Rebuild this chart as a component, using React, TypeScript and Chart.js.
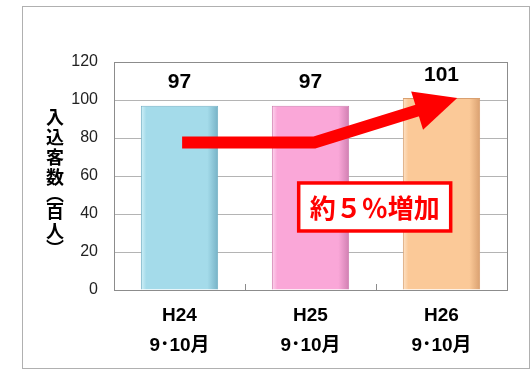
import React, { useEffect, useRef } from "react";
import { Chart, registerables } from "chart.js";

Chart.register(...registerables);

const categories: string[][] = [["H24", "9･10月"], ["H25", "9･10月"], ["H26", "9･10月"]];
const values: number[] = [97, 97, 101];
const yTicks: number[] = [0, 20, 40, 60, 80, 100, 120];
const yTitleChars: string[] = ["入", "込", "客", "数", "︵", "百", "人", "︶"];
const calloutText = "約５％増加";
// arrow path in data units: [category index, value]
const arrowPath: number[][] = [[0.02, 77.6], [1.03, 77.6], [2.12, 101]];
const calloutAnchor: number[] = [1.49, 43.7];

const mainColors = ["#A4DBEA", "#FAA7D8", "#FBC998"];
const lightColors = ["#D2F1F8", "#FDD6EE", "#FDE4CA"];
const darkColors = ["#76B2C6", "#D07FB1", "#D9A070"];

const FONT = "'Liberation Sans', Arial, 'Noto Sans CJK JP', sans-serif";
const CJK = "'Noto Sans CJK JP', 'Liberation Sans', sans-serif";
const BAR_PCT = 0.59;

const decorPlugin = {
  id: "decor",
  beforeDraw(chart: any) {
    const ctx = chart.ctx;
    ctx.save();
    ctx.fillStyle = "#ffffff";
    ctx.fillRect(0, 0, chart.width, chart.height);
    ctx.strokeStyle = "#B0B0B0";
    ctx.lineWidth = 1;
    ctx.strokeRect(22.5, 6.5, 507, 362);
    ctx.restore();
  },
  afterDraw(chart: any) {
    const ctx = chart.ctx;
    const xs = chart.scales.x;
    const ys = chart.scales.y;
    const area = chart.chartArea;
    ctx.save();
    ctx.strokeStyle = "#8C8C8C";
    ctx.lineWidth = 1;
    ctx.strokeRect(Math.round(area.left) + 0.5, Math.round(area.top) + 0.5, Math.round(area.right - area.left), Math.round(area.bottom - area.top));
    for (let i = 0; i < values.length - 1; i++) {
      const px = Math.round(xs.getPixelForValue(i + 0.5)) + 0.5;
      ctx.beginPath();
      ctx.moveTo(px, area.bottom);
      ctx.lineTo(px, area.bottom - 6);
      ctx.stroke();
    }
    ctx.fillStyle = "#000";
    ctx.font = "bold 18px " + CJK;
    ctx.textAlign = "center";
    ctx.textBaseline = "middle";
    let y = 117;
    yTitleChars.forEach((c, i) => {
      const isParen = c === "︵" || c === "︶";
      if (i > 0) {
        const prevParen = yTitleChars[i - 1] === "︵" || yTitleChars[i - 1] === "︶";
        y += (prevParen ? 7 : 10) + (isParen ? 7 : 10);
      }
      ctx.fillText(c, 55, y);
    });
    ctx.font = "bold 21px " + FONT;
    ctx.fillStyle = "#000";
    values.forEach((v, i) => {
      ctx.fillText(String(v), xs.getPixelForValue(i), ys.getPixelForValue(v) - 23);
    });
    const pts = arrowPath.map((p) => [xs.getPixelForValue(p[0]), ys.getPixelForValue(p[1])]);
    const tip = pts[pts.length - 1];
    const prev = pts[pts.length - 2];
    const ang = Math.atan2(tip[1] - prev[1], tip[0] - prev[0]);
    const headLen = 42;
    const headHalf = 20;
    const base = [tip[0] - headLen * Math.cos(ang), tip[1] - headLen * Math.sin(ang)];
    ctx.strokeStyle = "#FF0000";
    ctx.fillStyle = "#FF0000";
    ctx.lineWidth = 12;
    ctx.lineJoin = "miter";
    ctx.beginPath();
    ctx.moveTo(pts[0][0], pts[0][1]);
    for (let i = 1; i < pts.length - 1; i++) ctx.lineTo(pts[i][0], pts[i][1]);
    ctx.lineTo(base[0] + 2 * Math.cos(ang), base[1] + 2 * Math.sin(ang));
    ctx.stroke();
    ctx.beginPath();
    ctx.moveTo(tip[0], tip[1]);
    ctx.lineTo(base[0] + headHalf * Math.sin(ang), base[1] - headHalf * Math.cos(ang));
    ctx.lineTo(base[0] - headHalf * Math.sin(ang), base[1] + headHalf * Math.cos(ang));
    ctx.closePath();
    ctx.fill();
    const cx = xs.getPixelForValue(calloutAnchor[0]);
    const cy = ys.getPixelForValue(calloutAnchor[1]);
    const bw = 152, bh = 48;
    ctx.fillStyle = "#fff";
    ctx.fillRect(cx - bw / 2, cy - bh / 2, bw, bh);
    ctx.lineWidth = 3.5;
    ctx.strokeStyle = "#FF0000";
    ctx.strokeRect(cx - bw / 2, cy - bh / 2, bw, bh);
    ctx.fillStyle = "#FF0000";
    ctx.font = "bold 26px " + CJK;
    ctx.fillText(calloutText, cx, cy + 1);
    ctx.restore();
  },
};

export default function App() {
  const ref = useRef<HTMLCanvasElement>(null);
  useEffect(() => {
    document.body.style.margin = "0";
    const canvas = ref.current!;
    const chart = new Chart(canvas, {
      type: "bar",
      data: {
        labels: categories,
        datasets: [
          {
            data: values,
            backgroundColor: (c: any) => {
              const i = c.dataIndex;
              const xs = c.chart.scales && c.chart.scales.x;
              if (!xs || i === undefined) return mainColors[i] || mainColors[0];
              const cxp = xs.getPixelForValue(i);
              const w = (xs.getPixelForValue(1) - xs.getPixelForValue(0)) * BAR_PCT;
              if (!Number.isFinite(cxp) || !Number.isFinite(w) || w <= 0) return mainColors[i];
              const g = c.chart.ctx.createLinearGradient(cxp - w / 2, 0, cxp + w / 2, 0);
              g.addColorStop(0, lightColors[i]);
              g.addColorStop(0.07, mainColors[i]);
              g.addColorStop(0.86, mainColors[i]);
              g.addColorStop(1, darkColors[i]);
              return g;
            },
            borderColor: darkColors,
            borderWidth: 1,
            barPercentage: BAR_PCT,
            categoryPercentage: 1,
          },
        ],
      },
      options: {
        animation: false,
        responsive: false,
        devicePixelRatio: 1,
        layout: { padding: { top: 62, right: 24, left: 0, bottom: 0 } },
        plugins: { legend: { display: false }, tooltip: { enabled: false } },
        scales: {
          x: {
            grid: { display: false, drawTicks: false },
            border: { display: true, color: "#8C8C8C" },
            ticks: {
              color: "#000",
              font: { family: FONT, size: 19, weight: "bold", lineHeight: 1.58 },
              padding: 11,
              maxRotation: 0,
            },
            afterFit: (s: any) => { s.height = 81; },
          },
          y: {
            min: 0,
            max: 120,
            afterBuildTicks: (s: any) => { s.ticks = yTicks.map((v) => ({ value: v })); },
            grid: { color: "#B4B4B4", drawTicks: false },
            border: { display: true, color: "#8C8C8C" },
            ticks: {
              color: "#222",
              font: { family: FONT, size: 16 },
              padding: 16,
            },
            afterFit: (s: any) => { s.width = 114; },
          },
        },
      },
      plugins: [decorPlugin],
    });
    return () => chart.destroy();
  }, []);
  return <canvas ref={ref} width={531} height={371} style={{ display: "block" }} />;
}
